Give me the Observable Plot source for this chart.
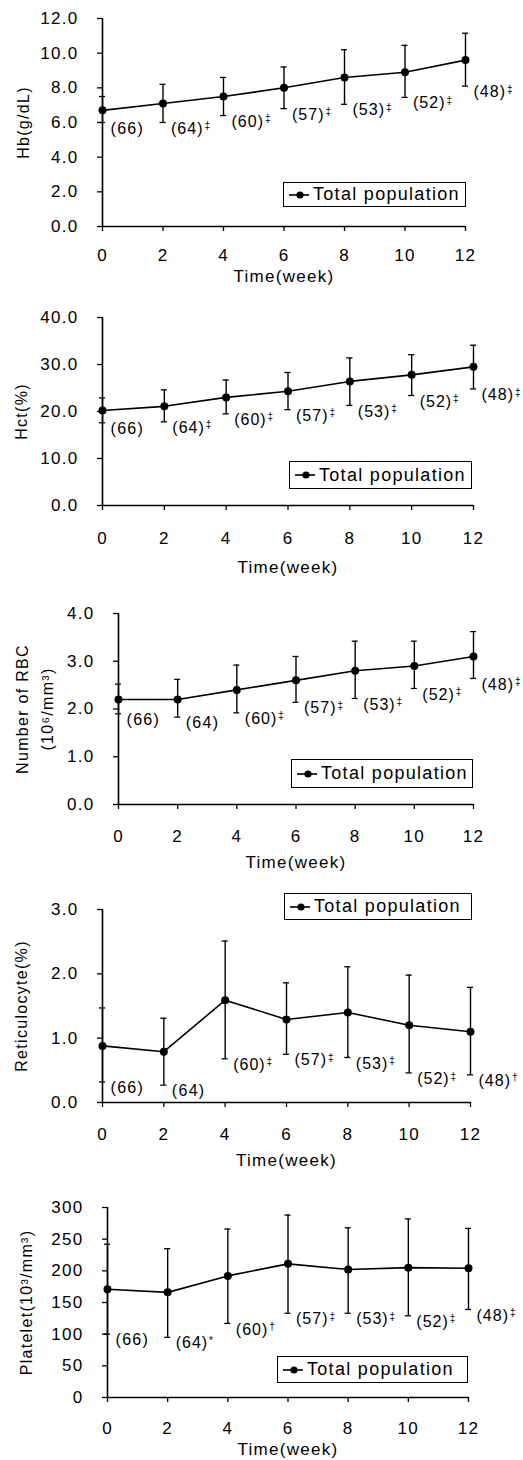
<!DOCTYPE html>
<html><head><meta charset="utf-8">
<script src="https://cdn.jsdelivr.net/npm/d3@7"></script>
<script src="https://cdn.jsdelivr.net/npm/@observablehq/plot@0.6"></script>
<style>
body{margin:0;background:#fff;}
#wrap{position:relative;width:523px;height:1460px;overflow:hidden;}
.panel{position:absolute;left:0;width:523px;}
.legend{position:absolute;box-sizing:border-box;border:1.5px solid #000;background:#fff;display:flex;align-items:center;font-family:"Liberation Sans",Arial,sans-serif;font-size:18px;letter-spacing:1.3px;color:#000;}
.legend svg{margin-left:4px;margin-right:3px;}
</style>
</head><body><div id="wrap"></div>
<script>
// ---- data ----
const weeks = [0, 2, 4, 6, 8, 10, 12];
const nCounts = ["(66)", "(64)", "(60)", "(57)", "(53)", "(52)", "(48)"];
const xTicks = [0, 2, 4, 6, 8, 10, 12];
const xTitle = "Time(week)";
const legendLabel = "Total population";

const hbMean  = [6.7, 7.1, 7.5, 8.0, 8.6, 8.9, 9.6];
const hbUpper = [7.5, 8.2, 8.6, 9.2, 10.2, 10.45, 11.15];
const hbLower = [6.0, 6.0, 6.4, 6.8, 7.05, 7.45, 8.1];
const hbSig   = ["", "‡", "‡", "‡", "‡", "‡", "‡"];
const hbTicks = [0, 2, 4, 6, 8, 10, 12];
const hbTitle = "Hb(g/dL)";

const hctMean  = [20.2, 21.1, 23.0, 24.3, 26.4, 27.8, 29.5];
const hctUpper = [22.9, 24.6, 26.7, 28.3, 31.4, 32.1, 34.1];
const hctLower = [17.6, 17.8, 19.5, 20.4, 21.3, 23.4, 24.8];
const hctSig   = ["", "‡", "‡", "‡", "‡", "‡", "‡"];
const hctTicks = [0, 10, 20, 30, 40];
const hctTitle = "Hct(%)";

const rbcMean  = [2.2, 2.2, 2.4, 2.6, 2.8, 2.9, 3.1];
const rbcUpper = [2.52, 2.62, 2.92, 3.1, 3.42, 3.42, 3.62];
const rbcLower = [1.9, 1.83, 1.92, 2.14, 2.22, 2.43, 2.64];
const rbcSig   = ["", "", "‡", "‡", "‡", "‡", "‡"];
const rbcTicks = [0, 1, 2, 3, 4];
const rbcTitle = "Number of RBC\n(10⁶/mm³)";

const retMean  = [0.88, 0.79, 1.59, 1.29, 1.40, 1.20, 1.10];
const retUpper = [1.47, 1.31, 2.51, 1.86, 2.11, 1.98, 1.79];
const retLower = [0.32, 0.27, 0.68, 0.75, 0.70, 0.46, 0.43];
const retSig   = ["", "", "‡", "‡", "‡", "‡", "†"];
const retTicks = [0, 1, 2, 3];
const retTitle = "Reticulocyte(%)";

const pltMean  = [171, 166, 192, 211, 202, 205, 204];
const pltUpper = [242, 235, 266, 288, 268, 282, 267];
const pltLower = [100, 95, 117, 133, 133, 129, 139];
const pltSig   = ["", "*", "†", "‡", "‡", "‡", "‡"];
const pltTicks = [0, 50, 100, 150, 200, 250, 300];
const pltTitle = "Platelet(10³/mm³)";

// ---- layout ----
const f1 = d3.format(".1f"), f0 = d3.format("d");
const panels = [
  {mean: hbMean, up: hbUpper, lo: hbLower, sig: hbSig, ticks: hbTicks, fmt: f1, title: hbTitle,
   top: 0, height: 290, ml: 102, mr: 58, mt: 18, mb: 64, tickPad: 17, xTitleDy: 50, yTitleX: 20,
   legend: {left: 283, top: 182, w: 183, h: 25}},
  {mean: hctMean, up: hctUpper, lo: hctLower, sig: hctSig, ticks: hctTicks, fmt: f1, title: hctTitle,
   top: 290, height: 290, ml: 102, mr: 50, mt: 27, mb: 75, tickPad: 21, xTitleDy: 62, yTitleX: 18,
   legend: {left: 289, top: 171, w: 183, h: 28}},
  {mean: rbcMean, up: rbcUpper, lo: rbcLower, sig: rbcSig, ticks: rbcTicks, fmt: f1, title: rbcTitle,
   top: 580, height: 290, ml: 118, mr: 50, mt: 33, mb: 66, tickPad: 20, xTitleDy: 58, yTitleX: 32,
   legend: {left: 291, top: 179, w: 182, h: 29}},
  {mean: retMean, up: retUpper, lo: retLower, sig: retSig, ticks: retTicks, fmt: f1, title: retTitle,
   top: 870, height: 295, ml: 102, mr: 53, mt: 39, mb: 63, tickPad: 20, xTitleDy: 58, yTitleX: 18,
   legend: {left: 284, top: 23, w: 188, h: 27}},
  {mean: pltMean, up: pltUpper, lo: pltLower, sig: pltSig, ticks: pltTicks, fmt: f0, title: pltTitle,
   top: 1165, height: 295, ml: 107, mr: 55, mt: 42, mb: 63, tickPad: 19, xTitleDy: 52, yTitleX: 23,
   legend: {left: 277, top: 191, w: 191, h: 27}}
];

const wrap = document.getElementById("wrap");
const cap = 0.1;
panels.forEach(p => {
  const data = weeks.map((w, i) => ({week: w, mean: p.mean[i], hi: p.up[i], lo: p.lo[i], label: nCounts[i] + p.sig[i]}));
  const yMax = p.ticks[p.ticks.length - 1];
  const chart = Plot.plot({
    width: 523, height: p.height,
    marginLeft: p.ml, marginRight: p.mr, marginTop: p.mt, marginBottom: p.mb,
    style: {fontFamily: '"Liberation Sans", Arial, sans-serif', fontSize: "17px", color: "#000", background: "transparent", letterSpacing: "1.3px", overflow: "visible"},
    x: {domain: [0, 12]},
    y: {domain: [0, yMax]},
    marks: [
      Plot.axisX({ticks: xTicks, tickSize: 5, tickPadding: p.tickPad, label: null, tickFormat: f0, fontSize: 17, strokeWidth: 1.3}),
      Plot.axisY({ticks: p.ticks, tickSize: 5, tickPadding: 19, label: null, tickFormat: p.fmt, fontSize: 17, strokeWidth: 1.3}),
      Plot.ruleX([0], {strokeWidth: 1.6}),
      Plot.ruleY([0], {strokeWidth: 1.6}),
      Plot.ruleX(data, {x: "week", y1: "lo", y2: "hi", strokeWidth: 1.4}),
      Plot.ruleY(data, {y: "hi", x1: d => d.week - cap, x2: d => d.week + cap, strokeWidth: 1.3}),
      Plot.ruleY(data, {y: "lo", x1: d => d.week - cap, x2: d => d.week + cap, strokeWidth: 1.3}),
      Plot.line(data, {x: "week", y: "mean", stroke: "#000", strokeWidth: 1.6}),
      Plot.dot(data, {x: "week", y: "mean", r: 4, fill: "#000"}),
      Plot.text(data, {x: "week", y: "lo", text: "label", textAnchor: "start", dx: 8, dy: 6, fontSize: 16, letterSpacing: "1px"}),
      Plot.text([p.title], {frameAnchor: "left", rotate: -90, textAnchor: "middle", lineAnchor: "middle", dx: p.yTitleX - p.ml, fontSize: 16, lineHeight: 1.6, text: d => d}),
      Plot.text([xTitle], {frameAnchor: "bottom", textAnchor: "middle", lineAnchor: "middle", dy: p.xTitleDy, fontSize: 17, text: d => d})
    ]
  });
  chart.querySelectorAll("text").forEach(t => {
    const m = t.textContent.match(/^(\(\d+\))([‡†*])$/);
    if (m) {
      t.textContent = m[1];
      t.setAttribute("letter-spacing", "1");
      const ts = document.createElementNS("http://www.w3.org/2000/svg", "tspan");
      ts.setAttribute("dy", "-0.45em");
      ts.setAttribute("dx", "1");
      ts.setAttribute("font-size", "10");
      ts.setAttribute("letter-spacing", "0");
      ts.textContent = m[2];
      t.appendChild(ts);
    }
  });
  const holder = document.createElement("div");
  holder.className = "panel";
  holder.style.top = p.top + "px";
  holder.appendChild(chart);
  wrap.appendChild(holder);

  const lg = document.createElement("div");
  lg.className = "legend";
  lg.style.left = p.legend.left + "px";
  lg.style.top = (p.top + p.legend.top) + "px";
  lg.style.width = p.legend.w + "px";
  lg.style.height = p.legend.h + "px";
  lg.innerHTML = '<svg width="22" height="10"><line x1="1" y1="5" x2="21" y2="5" stroke="#000" stroke-width="1.6"/><circle cx="12" cy="5" r="3.6" fill="#000"/></svg><span></span>';
  lg.querySelector("span").textContent = legendLabel;
  wrap.appendChild(lg);
});
</script>
</body></html>
